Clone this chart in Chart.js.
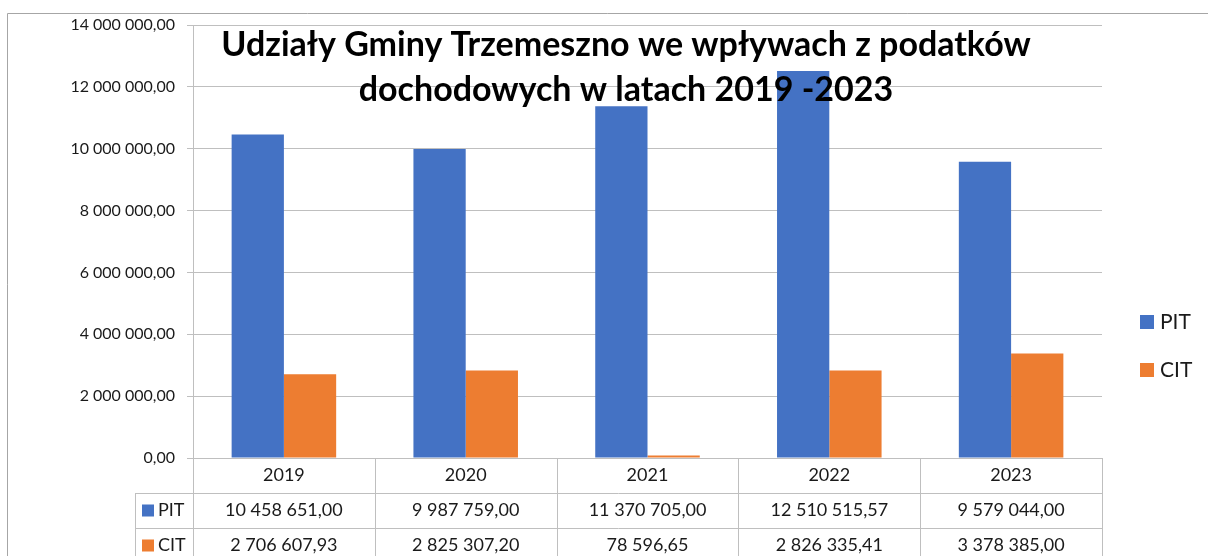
<!DOCTYPE html>
<html>
<head>
<meta charset="utf-8">
<script src="https://cdn.jsdelivr.net/npm/chart.js@4"></script>
<style>
  body { margin: 0; background: #fff; }
  #wrap { width: 1208px; height: 556px; position: relative; }
</style>
</head>
<body>
<div id="wrap"><canvas id="chart"></canvas></div>
<script>
const years = ["2019", "2020", "2021", "2022", "2023"];
const pitValues = [10458651.00, 9987759.00, 11370705.00, 12510515.57, 9579044.00];
const citValues = [2706607.93, 2825307.20, 78596.65, 2826335.41, 3378385.00];
const titleLines = ["Udziały Gminy Trzemeszno we wpływach z podatków", "dochodowych w latach 2019 -2023"];

const BLUE = "#4472C4";
const ORANGE = "#ED7D31";
const LINE = "#bfbfbf";
const FONT = "Lato, 'Open Sans', sans-serif";

// 14000000 -> "14 000 000,00"
function fmt(n) {
  const parts = n.toFixed(2).split(".");
  return parts[0].replace(/\B(?=(\d{3})+(?!\d))/g, " ") + "," + parts[1];
}

const extras = {
  id: "extras",
  afterDraw(chart) {
    const ctx = chart.ctx;
    const area = chart.chartArea;
    const x = chart.scales.x;
    const step = x.getPixelForValue(1) - x.getPixelForValue(0);
    const rowH = 35;
    const top = area.bottom;
    const keyLeft = 135;
    const sets = chart.data.datasets;

    ctx.save();
    // table lines
    ctx.strokeStyle = LINE;
    ctx.lineWidth = 1;
    ctx.beginPath();
    for (let i = 0; i <= years.length; i++) {
      const px = Math.round(area.left + i * step) + 0.5;
      ctx.moveTo(px, top);
      ctx.lineTo(px, top + rowH * 3);
    }
    ctx.moveTo(area.left, top + 0.5);
    ctx.lineTo(area.right, top + 0.5);
    for (let r = 1; r <= 3; r++) {
      const py = Math.round(top + r * rowH) + 0.5;
      ctx.moveTo(keyLeft, py);
      ctx.lineTo(area.right, py);
    }
    ctx.moveTo(keyLeft + 0.5, top + rowH);
    ctx.lineTo(keyLeft + 0.5, top + rowH * 3);
    ctx.stroke();

    // table text
    ctx.fillStyle = "#1a1a1a";
    ctx.font = "18px " + FONT;
    ctx.textAlign = "center";
    ctx.textBaseline = "middle";
    years.forEach((y, i) => {
      const cx = x.getPixelForValue(i);
      ctx.fillText(y, cx, top + rowH / 2);
      sets.forEach((ds, d) => {
        ctx.fillText(fmt(ds.data[i]), cx, top + rowH * (d + 1.5));
      });
    });
    ctx.textAlign = "left";
    sets.forEach((ds, d) => {
      const cy = top + rowH * (d + 1.5);
      ctx.fillStyle = ds.backgroundColor;
      ctx.fillRect(142, cy - 6, 12, 12);
      ctx.fillStyle = "#1a1a1a";
      ctx.fillText(ds.label, 158, cy);
    });

    // legend on the right
    ctx.font = "21px " + FONT;
    sets.forEach((ds, d) => {
      const cy = 322 + d * 48;
      ctx.fillStyle = ds.backgroundColor;
      ctx.fillRect(1140, cy - 7, 14, 14);
      ctx.fillStyle = "#1a1a1a";
      ctx.fillText(ds.label, 1160, cy);
    });

    // title over the plot
    ctx.font = "bold 34px " + FONT;
    ctx.textAlign = "center";
    ctx.fillStyle = "#000";
    ctx.fillText(titleLines[0], 626, 45);
    ctx.fillText(titleLines[1], 626, 90);

    // outer frame
    ctx.strokeStyle = "#a6a6a6";
    ctx.beginPath();
    ctx.moveTo(7.5, 556);
    ctx.lineTo(7.5, 13.5);
    ctx.lineTo(1208, 13.5);
    ctx.stroke();
    ctx.restore();
  }
};

new Chart(document.getElementById("chart"), {
  type: "bar",
  data: {
    labels: years,
    datasets: [
      { label: "PIT", data: pitValues, backgroundColor: BLUE },
      { label: "CIT", data: citValues, backgroundColor: ORANGE }
    ]
  },
  options: {
    responsive: true,
    maintainAspectRatio: false,
    animation: false,
    layout: { padding: { left: 0, top: 25, right: 106, bottom: 98 } },
    datasets: { bar: { barPercentage: 1, categoryPercentage: 0.575 } },
    plugins: {
      legend: { display: false },
      title: { display: false },
      tooltip: { enabled: false }
    },
    scales: {
      x: { display: false },
      y: {
        min: 0,
        max: 14000000,
        afterFit(scale) { scale.width = 193; },
        ticks: {
          stepSize: 2000000,
          padding: 12,
          color: "#1a1a1a",
          font: { family: FONT, size: 16 },
          callback: (v) => fmt(v)
        },
        grid: { color: LINE, tickLength: 6 },
        border: { color: LINE }
      }
    }
  },
  plugins: [extras]
});
</script>
</body>
</html>
